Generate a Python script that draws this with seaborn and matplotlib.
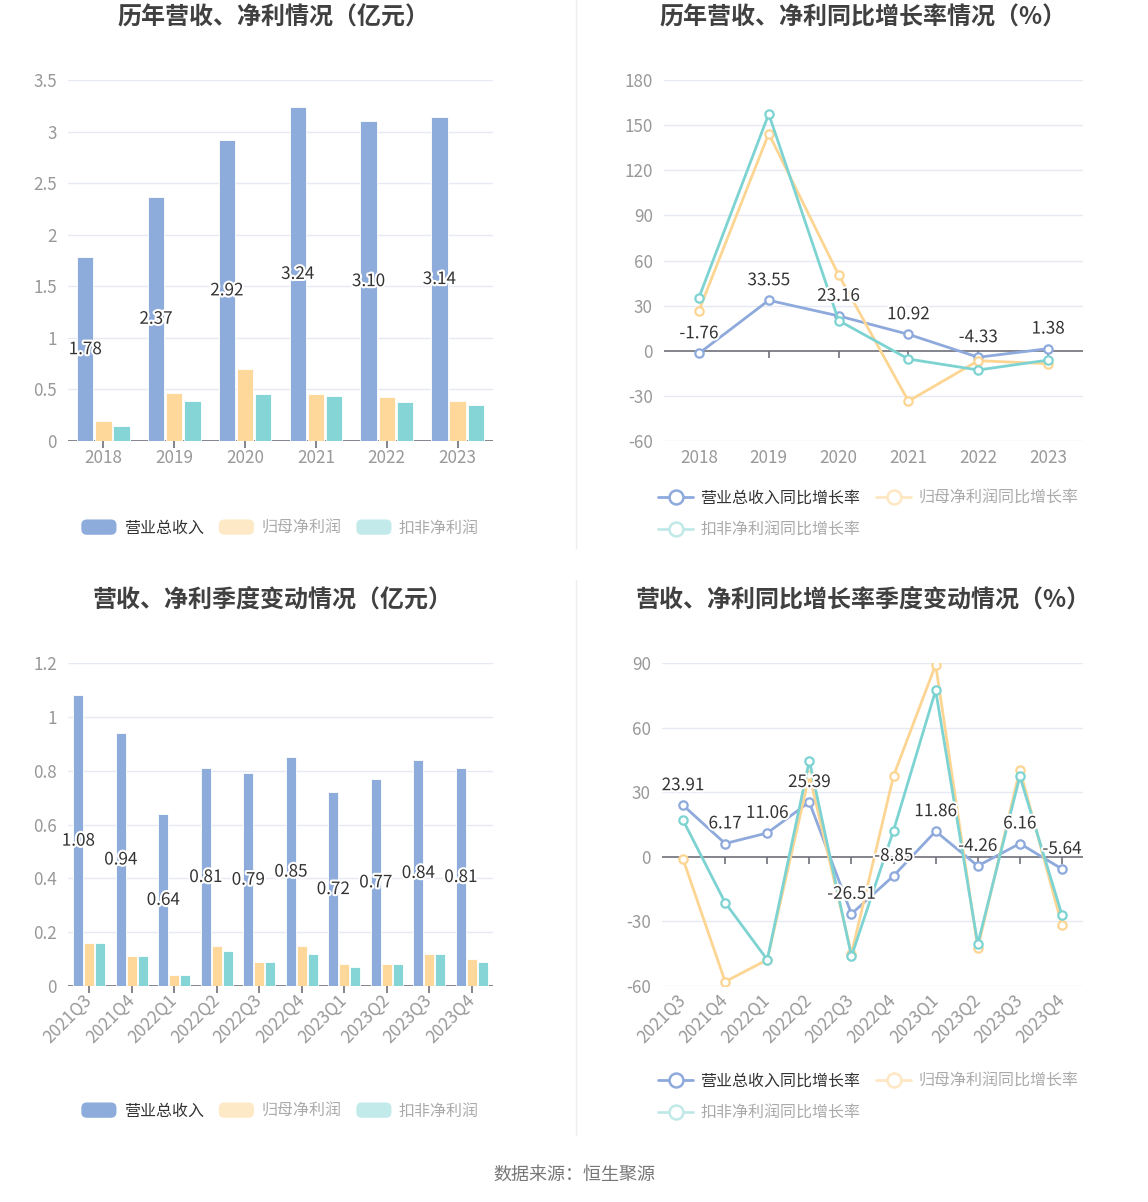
import matplotlib
matplotlib.use("Agg")
import matplotlib.pyplot as plt
import matplotlib.patheffects as pe
import numpy as np
import pandas as pd
import seaborn as sns
from matplotlib.legend_handler import HandlerPatch
from matplotlib.lines import Line2D
from matplotlib.patches import FancyBboxPatch, Patch

# ---- data ----
years = ["2018", "2019", "2020", "2021", "2022", "2023"]
rev_year = [1.78, 2.37, 2.92, 3.24, 3.10, 3.14]
np_year = [0.19, 0.47, 0.70, 0.46, 0.43, 0.39]
dnp_year = [0.15, 0.39, 0.46, 0.44, 0.38, 0.35]

rev_yoy_year = [-1.76, 33.55, 23.16, 10.92, -4.33, 1.38]
np_yoy_year = [26.7, 144.4, 50.5, -33.5, -6.6, -8.6]
dnp_yoy_year = [35.3, 157.4, 20.1, -5.5, -12.8, -6.2]

quarters = ["2021Q3", "2021Q4", "2022Q1", "2022Q2", "2022Q3",
            "2022Q4", "2023Q1", "2023Q2", "2023Q3", "2023Q4"]
rev_q = [1.08, 0.94, 0.64, 0.81, 0.79, 0.85, 0.72, 0.77, 0.84, 0.81]
np_q = [0.16, 0.11, 0.04, 0.15, 0.09, 0.15, 0.08, 0.08, 0.12, 0.10]
dnp_q = [0.16, 0.11, 0.04, 0.13, 0.09, 0.12, 0.07, 0.08, 0.12, 0.09]

rev_yoy_q = [23.91, 6.17, 11.06, 25.39, -26.51, -8.85, 11.86, -4.26, 6.16, -5.64]
np_yoy_q = [-1.1, -58.0, -47.8, 38.0, -45.0, 37.6, 89.2, -42.4, 40.5, -31.8]
dnp_yoy_q = [17.0, -21.3, -47.8, 44.7, -46.2, 12.2, 77.3, -40.5, 37.4, -27.0]

bar_names = ["营业总收入", "归母净利润", "扣非净利润"]
line_names = ["营业总收入同比增长率", "归母净利润同比增长率", "扣非净利润同比增长率"]

BAR_COLORS = ["#8eacdb", "#fed89a", "#85d5d7"]
LINE_COLORS = ["#8ea9dc", "#fdd593", "#7dd3d2"]
FADED = ["#8eacdb", "#fee9c6", "#c3eaeb"]
GRID = "#e6eaf5"
AXIS = "#6e7079"
TICK = "#999999"
TEXT = "#333333"

sns.set_theme(style="white")
plt.rcParams["font.family"] = ["Noto Sans CJK SC", "DejaVu Sans"]

W, H = 1148, 1202
fig = plt.figure(figsize=(W / 100, H / 100), dpi=100)
fig.patch.set_facecolor("white")


def px_axes(left, top, right, bottom):
    return fig.add_axes([left / W, 1 - bottom / H, (right - left) / W, (bottom - top) / H])


def fmt(v):
    return f"{v:g}"


def style_axes(ax, cats, ylim, step, rotate=False):
    ax.set_ylim(*ylim)
    ax.set_xlim(-0.5, len(cats) - 0.5)
    yt = np.arange(ylim[0], ylim[1] + step / 2, step)
    ax.set_yticks(yt)
    ax.set_yticklabels([fmt(round(t, 2)) for t in yt])
    for t in yt:
        if abs(t) > 1e-9:
            ax.axhline(t, color=GRID, lw=1, zorder=0)
    ax.axhline(0, color=AXIS, lw=1.2, zorder=1)
    ax.plot(range(len(cats)), np.zeros(len(cats)), ls="", marker=3,
            markersize=5, color=AXIS, mew=1.2, zorder=1, clip_on=False)
    for s in ax.spines.values():
        s.set_visible(False)
    ax.set_xticks(range(len(cats)))
    if rotate:
        ax.set_xticklabels(cats, rotation=45, ha="right", va="center",
                           rotation_mode="anchor")
        ax.tick_params(axis="x", pad=8)
    else:
        ax.set_xticklabels(cats)
        ax.tick_params(axis="x", pad=6)
    ax.tick_params(axis="both", length=0, labelsize=12.3, labelcolor=TICK)
    ax.tick_params(axis="y", pad=8)
    ax.set_xlabel("")
    ax.set_ylabel("")
    ax.grid(False)


stroke = [pe.withStroke(linewidth=3, foreground="white")]


def bar_panel(ax, cats, rev, np_, dnp, ylim, step, rotate):
    df = pd.DataFrame({
        "period": cats * 3,
        "value": rev + np_ + dnp,
        "series": sum([[n] * len(cats) for n in bar_names], []),
    })
    sns.barplot(data=df, x="period", y="value", hue="series", order=cats,
                hue_order=bar_names, palette=BAR_COLORS, width=0.77, gap=0.1,
                edgecolor="white", linewidth=0.6, saturation=1, legend=False,
                ax=ax, zorder=2)
    style_axes(ax, cats, ylim, step, rotate)
    for bar, v in zip(ax.containers[0], rev):
        ax.text(bar.get_x() + bar.get_width() / 2, v / 2, f"{v:.2f}",
                ha="center", va="center", fontsize=12.3, color=TEXT,
                path_effects=stroke, zorder=5)


def line_panel(ax, cats, series, ylim, step, rotate):
    pos = np.arange(len(cats))
    for vals, c in zip(series, LINE_COLORS):
        sns.lineplot(x=pos, y=vals, color=c, lw=2, marker="o", markersize=6,
                     mfc="white", mec=c, mew=1.6, ax=ax, zorder=3)
    style_axes(ax, cats, ylim, step, rotate)
    for x, v in zip(pos, series[0]):
        ax.annotate(f"{v:.2f}", (x, v), xytext=(0, 8), textcoords="offset points",
                    ha="center", va="bottom", fontsize=12.3, color=TEXT,
                    path_effects=stroke, zorder=6)


class RoundBox(HandlerPatch):
    def create_artists(self, legend, orig_handle, xdescent, ydescent,
                       width, height, fontsize, trans):
        p = FancyBboxPatch((-xdescent, -ydescent), width, height,
                           boxstyle="round,pad=0,rounding_size=4",
                           facecolor=orig_handle.get_facecolor(),
                           edgecolor="none", transform=trans)
        return [p]


def bar_legend(cx, cy):
    handles = [Patch(facecolor=c) for c in FADED]
    leg = fig.legend(handles, bar_names, loc="center",
                     bbox_to_anchor=(cx / W, 1 - cy / H), ncol=3, frameon=False,
                     fontsize=11.5, handlelength=2.2, handleheight=1.1,
                     handletextpad=0.45, columnspacing=0.95,
                     handler_map={Patch: RoundBox()})
    for t, c in zip(leg.get_texts(), [TEXT, "#aaaaaa", "#aaaaaa"]):
        t.set_color(c)


def line_legend(lx, ty):
    cols = [LINE_COLORS[0], "#fee7c2", "#c0e9e8"]
    handles = [Line2D([], [], color=c, lw=2, marker="o", markersize=10,
                      mfc="white", mec=c, mew=1.8) for c in cols]
    order = [0, 2, 1]
    leg = fig.legend([handles[i] for i in order], [line_names[i] for i in order],
                     loc="upper left", bbox_to_anchor=(lx / W, 1 - ty / H),
                     ncol=2, frameon=False, fontsize=11.5, handlelength=2.2,
                     handletextpad=0.45, columnspacing=1.0, labelspacing=0.9,
                     borderaxespad=0, borderpad=0)
    text_cols = {0: TEXT, 1: "#aaaaaa", 2: "#aaaaaa"}
    for t, i in zip(leg.get_texts(), order):
        t.set_color(text_cols[i])


# ---- panels ----
ax1 = px_axes(68, 80, 493, 441)
bar_panel(ax1, years, rev_year, np_year, dnp_year, (0, 3.5), 0.5, False)

ax2 = px_axes(664, 80, 1083, 441)
line_panel(ax2, years, [rev_yoy_year, np_yoy_year, dnp_yoy_year], (-60, 180), 30, False)

ax3 = px_axes(68, 663, 493, 986)
bar_panel(ax3, quarters, rev_q, np_q, dnp_q, (0, 1.2), 0.2, True)

ax4 = px_axes(662, 663, 1083, 986)
line_panel(ax4, quarters, [rev_yoy_q, np_yoy_q, dnp_yoy_q], (-60, 90), 30, True)

# ---- titles, legends, decorations ----
title_kw = dict(ha="center", va="center", fontsize=17.3, fontweight="bold", color="#404040")
fig.text(273 / W, 1 - 18 / H, "历年营收、净利情况（亿元）", **title_kw)
fig.text(863 / W, 1 - 18 / H, "历年营收、净利同比增长率情况（%）", **title_kw)
fig.text(273 / W, 1 - 600 / H, "营收、净利季度变动情况（亿元）", **title_kw)
fig.text(863 / W, 1 - 600 / H, "营收、净利同比增长率季度变动情况（%）", **title_kw)

bar_legend(280, 528)
bar_legend(280, 1111)
line_legend(658, 490)
line_legend(658, 1073)

fig.add_artist(Line2D([576 / W, 576 / W], [1 - 0 / H, 1 - 548 / H],
                      color="#eeeeee", lw=1, transform=fig.transFigure))
fig.add_artist(Line2D([576 / W, 576 / W], [1 - 580 / H, 1 - 1135 / H],
                      color="#eeeeee", lw=1, transform=fig.transFigure))

fig.text(574 / W, 1 - 1175 / H, "数据来源：恒生聚源", ha="center", va="center",
         fontsize=13, color="#777777")

fig.savefig("out.png", dpi=100, facecolor="white")
